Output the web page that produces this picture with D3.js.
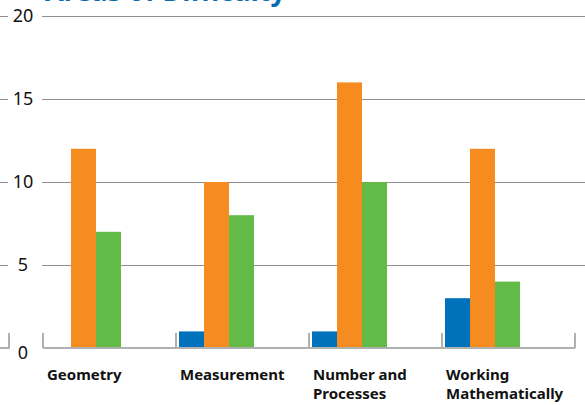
<!DOCTYPE html>
<html>
<head>
<meta charset="utf-8">
<title>Areas of Difficulty</title>
<style>
body { margin: 0; background: white; }
svg { display: block; font-family: "Noto Sans", sans-serif; }
.grid line { stroke: #8f8f8f; stroke-width: 1px; }
.ylab { font-size: 18px; fill: #111; }
.base { stroke: #b0b0b0; stroke-width: 2px; fill: none; }
.cat { font-size: 15px; font-weight: 700; fill: #111; }
.title { font-size: 27px; font-weight: 700; fill: #0a6bb3; }
</style>
</head>
<body>
<svg id="chart" width="585" height="405"></svg>
<script src="https://cdn.jsdelivr.net/npm/d3@7"></script>
<script>

var categories = ["Geometry", "Measurement", "Number and\nProcesses", "Working\nMathematically"];
var series = ["blue", "orange", "green"];
var blueValues = [0, 1, 1, 3];
var orangeValues = [12, 10, 16, 12];
var greenValues = [7, 8, 10, 4];
var yTicks = [0, 5, 10, 15, 20];
var colors = ["#0071bb", "#f68b20", "#62bb47"];

var svg = d3.select("#chart");
var W = 585;

var y = d3.scaleLinear().domain([0, 20]).range([348, 16]);
var x = d3.scaleBand().domain(categories).range([43, 575]);
var x1 = d3.scaleBand().domain(series).range([3, 78]);
var color = d3.scaleOrdinal().domain(series).range(colors);

// title, mostly cut off at the top
svg.append("text")
    .attr("class", "title")
    .attr("x", 45)
    .attr("y", 1)
    .text("Areas of Difficulty");

// gridlines, with a gap for the labels
var grid = svg.append("g").attr("class", "grid");
yTicks.filter(function(d) { return d > 0; }).forEach(function(t) {
	grid.append("line").attr("x1", 0).attr("x2", 8).attr("y1", y(t) + 0.5).attr("y2", y(t) + 0.5);
	grid.append("line").attr("x1", 42).attr("x2", W).attr("y1", y(t) + 0.5).attr("y2", y(t) + 0.5);
});

svg.append("g").selectAll("text")
    .data(yTicks)
  .enter().append("text")
    .attr("class", "ylab")
    .attr("x", 23)
    .attr("y", function(d) { return d === 0 ? y(d) + 11 : y(d) + 6; })
    .attr("text-anchor", "middle")
    .text(function(d) { return d; });

// bars
var data = categories.map(function(c, i) {
	return { cat: c, vals: [blueValues[i], orangeValues[i], greenValues[i]] };
});

var groups = svg.append("g").selectAll("g")
    .data(data)
  .enter().append("g")
    .attr("transform", function(d) { return "translate(" + x(d.cat) + ",0)"; });

groups.selectAll("rect")
    .data(function(d) { return d.vals.map(function(v, j) { return { s: series[j], v: v }; }); })
  .enter().append("rect")
    .attr("x", function(d) { return x1(d.s); })
    .attr("width", x1.bandwidth())
    .attr("y", function(d) { return y(d.v); })
    .attr("height", function(d) { return y(0) - y(d.v); })
    .attr("fill", function(d) { return color(d.s); });

// baseline with category separators
var by = y(0);
svg.append("path").attr("class", "base")
    .attr("d", "M0," + by + "H9V" + (by - 15));
var bounds = categories.map(function(c) { return x(c); }).concat([x.range()[1]]);
svg.append("path").attr("class", "base")
    .attr("d", "M" + bounds[0] + "," + by + "H" + bounds[bounds.length - 1]);
svg.append("g").selectAll("line")
    .data(bounds)
  .enter().append("line")
    .attr("class", "base")
    .attr("x1", function(d) { return d; })
    .attr("x2", function(d) { return d; })
    .attr("y1", by)
    .attr("y2", by - 15);

// category labels
svg.append("g").selectAll("text")
    .data(categories)
  .enter().append("text")
    .attr("class", "cat")
    .attr("x", function(d) { return x(d) + 4; })
    .attr("y", 380)
    .each(function(d) {
    	var t = d3.select(this);
    	d.split("\n").forEach(function(line, i) {
    		t.append("tspan").attr("x", t.attr("x")).attr("dy", i === 0 ? 0 : 19).text(line);
    	});
    });

</script>
</body>
</html>
